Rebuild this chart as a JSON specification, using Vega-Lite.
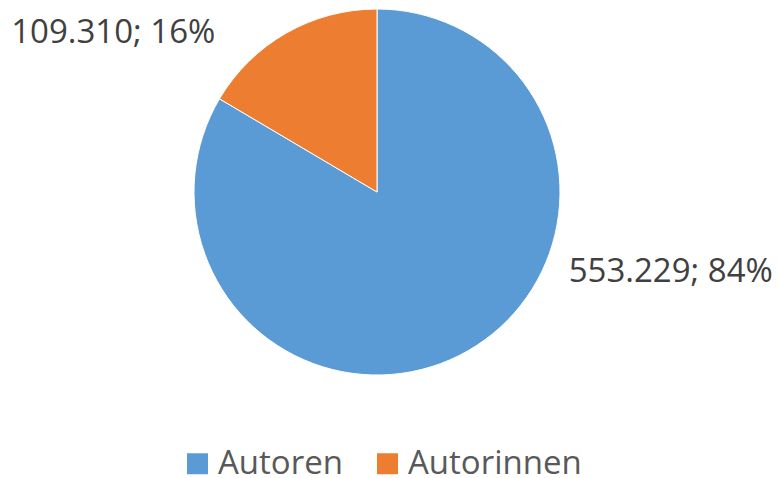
{
  "$schema": "https://vega.github.io/schema/vega-lite/v6.json",
  "width": 754,
  "height": 384,
  "padding": {"left": 0, "top": 0, "right": 25, "bottom": 94},
  "autosize": "none",
  "background": "white",
  "config": {"view": {"stroke": null}, "font": "Open Sans"},
  "data": {
    "values": [
      {"Kategorie": "Autoren", "Anzahl": 553229, "Label": "553.229; 84%"},
      {"Kategorie": "Autorinnen", "Anzahl": 109310, "Label": "109.310; 16%"}
    ]
  },
  "encoding": {
    "theta": {"field": "Anzahl", "type": "quantitative", "stack": true},
    "order": {"field": "Kategorie", "sort": "ascending"}
  },
  "layer": [
    {
      "mark": {"type": "arc", "outerRadius": 183, "stroke": "white", "strokeWidth": 1},
      "encoding": {
        "color": {
          "field": "Kategorie",
          "type": "nominal",
          "scale": {"domain": ["Autoren", "Autorinnen"], "range": ["#5B9BD5", "#ED7D31"]},
          "legend": {
            "title": null,
            "orient": "none",
            "direction": "horizontal",
            "legendX": 181,
            "legendY": 447,
            "symbolType": "square",
            "symbolSize": 441,
            "symbolStrokeWidth": 0,
            "labelFontSize": 33,
            "labelColor": "#595959",
            "labelFont": "Open Sans",
            "labelOffset": 4,
            "columnPadding": 28,
            "labelLimit": 400
          }
        }
      }
    },
    {
      "mark": {"type": "text", "radius": 183, "align": "left", "baseline": "middle", "dx": 101, "dy": -79, "fontSize": 33, "color": "#404040"},
      "encoding": {"text": {"condition": {"test": "datum.Kategorie === 'Autoren'", "field": "Label"}, "value": ""}}
    },
    {
      "mark": {"type": "text", "radius": 183, "align": "right", "baseline": "middle", "dx": -71, "dy": 0, "fontSize": 33, "color": "#404040"},
      "encoding": {"text": {"condition": {"test": "datum.Kategorie === 'Autorinnen'", "field": "Label"}, "value": ""}}
    }
  ]
}
